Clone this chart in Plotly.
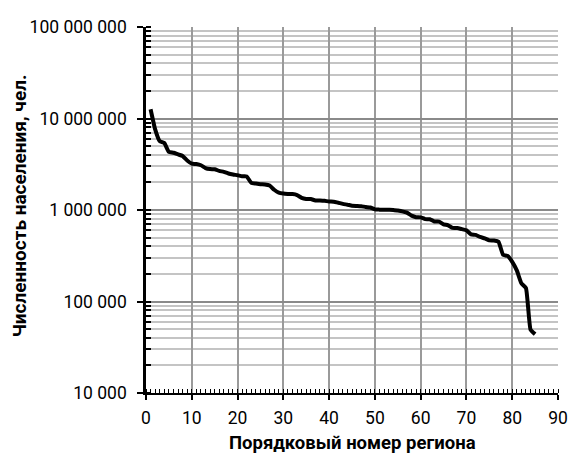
import plotly.graph_objects as go

# Population of Russian regions, sorted in descending order
region_rank = list(range(1, 86))
population = [
    12615279, 7599647, 5648254, 5383890, 4315699, 4220452, 4051005, 3898628,
    3475753, 3214623, 3179532, 3086126, 2874026, 2800674, 2788849, 2674256,
    2610800, 2507509, 2440815, 2397763, 2332813, 2327821, 1977720, 1944225,
    1913731, 1902718, 1847867, 1663795, 1549876, 1513044, 1498779, 1491855,
    1456951, 1358416, 1321473, 1318103, 1272109, 1269636, 1259612, 1238416,
    1231117, 1200187, 1167713, 1143224, 1114137, 1107041, 1100290, 1078280,
    1065785, 1016660, 1009380, 1005782, 1004180, 1002187, 985937, 967009,
    934889, 868350, 834701, 830235, 795504, 793194, 748056, 747247,
    697064, 680380, 637067, 636546, 618056, 600296, 541479, 534795,
    507061, 489638, 466305, 463088, 449138, 324423, 314723, 271135,
    218866, 158305, 140149, 49348, 43997,
]
x_title = "Порядковый номер региона"
y_title = "Численность населения, чел."

FONT = "Roboto, Liberation Sans, sans-serif"

fig = go.Figure()
fig.add_trace(go.Scatter(
    x=region_rank, y=population, mode="lines",
    line=dict(color="black", width=4, shape="spline", smoothing=0.4),
    showlegend=False, hoverinfo="skip",
))

fig.update_layout(
    width=568, height=466,
    margin=dict(l=146, r=10, t=27, b=73),
    paper_bgcolor="white", plot_bgcolor="white",
    separators=". ",
    font=dict(family=FONT, size=17.5, color="black"),
    xaxis=dict(
        range=[0, 90], dtick=10, tick0=0, automargin=False,
        showgrid=True, gridcolor="#9a9a9a", gridwidth=1.6,
        showline=True, linecolor="black", linewidth=2,
        ticks="outside", ticklen=5, tickwidth=2, tickcolor="black",
        ticklabelstandoff=3,
        zeroline=False,
        minor=dict(ticks="inside", ticklen=4, tickwidth=1, tickcolor="black",
                   dtick=1, showgrid=False),
        tickfont=dict(family=FONT, size=17.5, color="black"),
    ),
    yaxis=dict(
        type="log", range=[4, 8], dtick=1, automargin=False,
        tickformat=",d",
        showgrid=True, gridcolor="#8a8a8a", gridwidth=1.6,
        showline=True, linecolor="black", linewidth=2.5,
        ticks="outside", ticklen=6, tickwidth=2, tickcolor="black",
        ticklabelstandoff=7,
        zeroline=False,
        minor=dict(ticks="inside", ticklen=5, tickwidth=2, tickcolor="black",
                   dtick="D1", showgrid=True, gridcolor="#c4c4c4", gridwidth=1.6),
        tickfont=dict(family=FONT, size=17.5, color="black"),
    ),
    annotations=[
        dict(text="<b>" + x_title + "</b>", xref="paper", yref="paper",
             x=0.5, y=0, yshift=-50, showarrow=False,
             xanchor="center", yanchor="middle",
             font=dict(family=FONT, size=18.5, color="black")),
        dict(text="<b>" + y_title + "</b>", xref="paper", yref="paper",
             x=0, xshift=-127, y=0.51, showarrow=False, textangle=-90,
             xanchor="center", yanchor="middle",
             font=dict(family=FONT, size=19, color="black")),
    ],
)

fig.write_html("out.html")
